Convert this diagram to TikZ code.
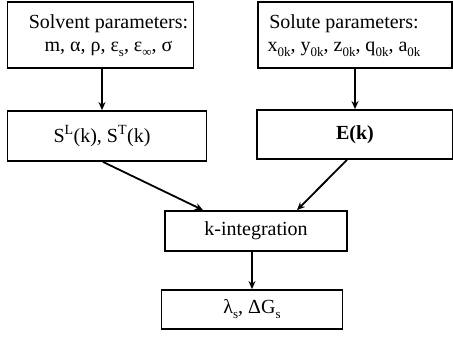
\documentclass[tikz,border=0pt]{standalone}
\usepackage{fontspec}
\setmainfont{Liberation Serif}
\usetikzlibrary{arrows.meta, positioning, calc}
\newcommand{\lowsub}[1]{\raisebox{-5pt}{\fontsize{13}{13}\selectfont #1}}

\begin{document}
\begin{tikzpicture}[x=1pt, y=1pt,
    block/.style={rectangle, draw, line width=1.8pt, inner sep=0pt, align=center, font=\fontsize{20}{24}\selectfont},
    flow/.style={-{Stealth[length=8pt, width=7pt]}, line width=1.8pt}
]
    \useasboundingbox (0,0) rectangle (453,337);

    % Inputs
    \node[block, minimum width=186, minimum height=66] (solvent) at (100.5,302)
        {\hspace*{16pt}\begin{tabular}{@{}c@{}}Solvent parameters:\\[-1pt] m, α, ρ, ε\lowsub{s}, ε\lowsub{∞}, σ\end{tabular}};
    \node[block, minimum width=194, minimum height=66] (solute) at (355,302)
        {\begin{tabular}{@{}c@{}}Solute parameters:\\[-1pt] x\lowsub{0k}, y\lowsub{0k}, z\lowsub{0k}, q\lowsub{0k}, a\lowsub{0k}\end{tabular}\hspace*{22pt}};

    % Intermediate quantities
    \node[block, minimum width=199, minimum height=50] (structure) at (107,201)
        {\hspace*{-10pt}S\textsuperscript{L}(k), S\textsuperscript{T}(k)};
    \node[block, minimum width=196, minimum height=49] (field) at (355,202.5)
        {\textbf{E(k)}};

    % Integration and result
    \node[block, minimum width=182, minimum height=40] (kint) at (256,106)
        {k-integration};
    \node[block, minimum width=181, minimum height=39] (result) at (252,27.5)
        {λ\lowsub{s}, ΔG\lowsub{s}};

    % Connections
    \draw[flow] ([xshift=1.5pt]solvent.south) -- ([xshift=1.5pt]solvent.south |- structure.north);
    \draw[flow] (solute.south) -- (solute.south |- field.north);
    \draw[flow] ([xshift=-4pt]structure.south) -- ([xshift=-53pt]kint.north);
    \draw[flow] ([xshift=-8pt]field.south) -- ([xshift=41pt]kint.north);
    \draw[flow] (result.north |- kint.south) -- (result.north);
\end{tikzpicture}
\end{document}
